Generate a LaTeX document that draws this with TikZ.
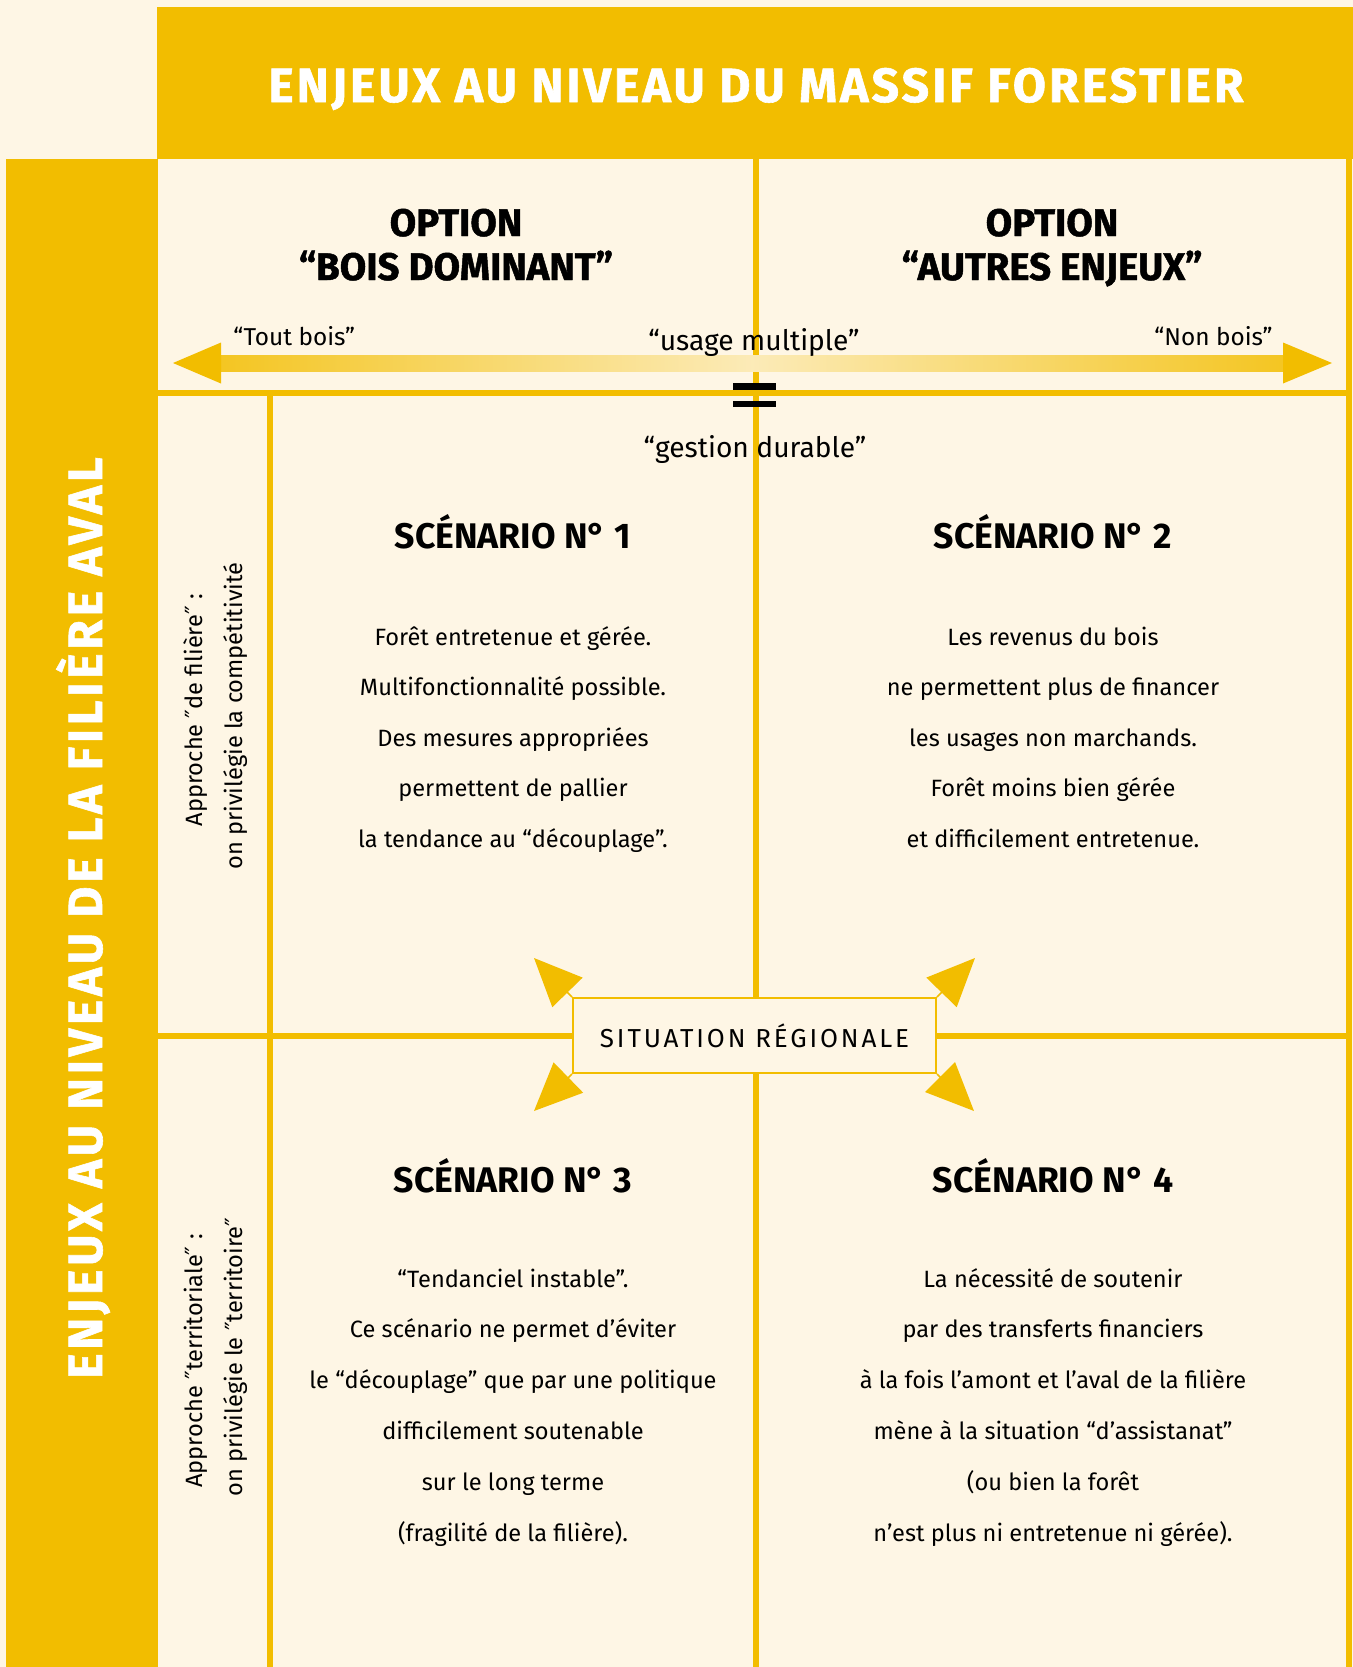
\documentclass[tikz,border=0pt]{standalone}
\usepackage{fontspec}
\setmainfont{Fira Sans}
\newfontfamily\heavyfont{Fira Sans}[BoldFeatures={FakeBold=1.2}]
\newfontfamily\primefont{DejaVu Sans}
\newcommand\dprime{{\primefont ″}}
\usetikzlibrary{arrows.meta,positioning}
\definecolor{ylw}{RGB}{242,189,0}
\definecolor{cream}{RGB}{254,246,229}

\begin{document}
\begin{tikzpicture}[x=0.5pt,y=-0.5pt,
  gridline/.style={ylw,line width=2.8pt},
  bandtitle/.style={font=\heavyfont\bfseries\fontsize{24}{28}\selectfont\addfontfeature{LetterSpace=8},
    text=white,inner sep=0pt,anchor=base},
  option/.style={font=\heavyfont\bfseries\fontsize{19.2}{22}\selectfont,inner sep=0pt,anchor=base},
  scen/.style={font=\bfseries\fontsize{17.8}{22}\selectfont,inner sep=0pt,anchor=base},
  body/.style={font=\fontsize{11.8}{15}\selectfont,inner sep=0pt,anchor=base},
  endlabel/.style={font=\fontsize{12.2}{15}\selectfont,inner sep=0pt},
  keyword/.style={font=\fontsize{14.1}{17}\selectfont,inner sep=0pt,anchor=base},
  sidelabel/.style={font=\fontsize{11.8}{14}\selectfont,inner sep=0pt,anchor=base,rotate=90},
  cornerarrow/.style={ylw,line width=0.8pt,-{Triangle[length=24pt,width=21pt]}}]
\useasboundingbox (0,0) rectangle (1353,1667);
\fill[cream] (0,0) rectangle (1353,1667);

% bands
\fill[ylw] (157,7) rectangle (1353,159);
\fill[ylw] (6,159) rectangle (158,1667);
\node[bandtitle,font=\heavyfont\bfseries\fontsize{24}{28}\selectfont\addfontfeature{LetterSpace=6.5}]
  (toptitle) at (756,102) {ENJEUX AU NIVEAU DU MASSIF FORESTIER};
\node[bandtitle,rotate=90] (lefttitle) at (102,918) {ENJEUX AU NIVEAU DE LA FILIÈRE AVAL};

% grid
\draw[gridline] (157,393) -- (1349,393);
\draw[gridline] (157,1036) -- (1349,1036);
\draw[gridline] (756,159) -- (756,1667);
\draw[gridline] (270,393) -- (270,1667);
\draw[gridline] (1349,159) -- (1349,1667);

% options
\node[option] (opt1a) at (456,236) {OPTION};
\node[option] (opt1b) at (456,280) {“BOIS DOMINANT”};
\node[option] (opt2a) at (1052,236) {OPTION};
\node[option] (opt2b) at (1052,280) {“AUTRES ENJEUX”};

% double arrow
\shade[left color=ylw!85!cream,right color=ylw!85!cream,middle color=cream!80!ylw]
  (221,355) rectangle (1283,371);
\fill[ylw] (221,342.5) -- (173,363) -- (221,383.5) -- cycle;
\fill[ylw] (1283,342.5) -- (1332,363) -- (1283,383.5) -- cycle;
\node[endlabel,anchor=base west] (toutbois) at (233,345) {“Tout bois”};
\node[endlabel,anchor=base east] (nonbois) at (1273,345) {“Non bois”};
\node[keyword] (usage) at (754,350) {“usage multiple”};
\fill (733,383) rectangle (776,389.5);
\fill (733,400.5) rectangle (776,407);
\node[keyword] (gestion) at (755,457) {“gestion durable”};

% side labels
\node[sidelabel] (side1a) at (202,710) {Approche \dprime de filière\dprime\ :};
\node[sidelabel] (side1b) at (242,716) {on privilégie la compétitivité};
\node[sidelabel] (side2a) at (202,1361) {Approche \dprime territoriale\dprime\ :};
\node[sidelabel] (side2b) at (242,1357) {on privilégie le \dprime territoire\dprime};

% scenarios
\node[scen] (sc1) at (513,548) {SCÉNARIO N° 1};
\node[scen] (sc2) at (1053,548) {SCÉNARIO N° 2};
\node[scen] (sc3) at (513,1192) {SCÉNARIO N° 3};
\node[scen] (sc4) at (1053,1192) {SCÉNARIO N° 4};

\foreach \txt [count=\i] in {{Forêt entretenue et gérée.},{Multifonctionnalité possible.},
  {Des mesures appropriées},{permettent de pallier},{la tendance au “découplage”.}}
  \node[body] (sa\i) at (513,{645+50.5*(\i-1)}) {\txt};
\foreach \txt [count=\i] in {{Les revenus du bois},{ne permettent plus de financer},
  {les usages non marchands.},{Forêt moins bien gérée},{et difficilement entretenue.}}
  \node[body] (sb\i) at (1053,{645+50.5*(\i-1)}) {\txt};
\foreach \txt [count=\i] in {{“Tendanciel instable”.},{Ce scénario ne permet d’éviter},
  {le “découplage” que par une politique},{difficilement soutenable},
  {sur le long terme},{(fragilité de la filière).}}
  \node[body] (sc\i) at (513,{1287+50.8*(\i-1)}) {\txt};
\foreach \txt [count=\i] in {{La nécessité de soutenir},{par des transferts financiers},
  {à la fois l’amont et l’aval de la filière},{mène à la situation “d’assistanat”},
  {(ou bien la forêt},{n’est plus ni entretenue ni gérée).}}
  \node[body] (sd\i) at (1053,{1287+50.8*(\i-1)}) {\txt};

% regional situation
\node[draw=ylw,line width=1pt,fill=cream,minimum width=181.5pt,minimum height=37.5pt,
  inner sep=0pt,font=\fontsize{13}{15}\selectfont\addfontfeature{LetterSpace=11}]
  (region) at (754.5,1035.5) {SITUATION RÉGIONALE};
\coordinate (tipnw) at (534,958);
\coordinate (tipne) at (975,958);
\coordinate (tipsw) at (534,1111);
\coordinate (tipse) at (974,1111);
\draw[cornerarrow] (region.north west) -- (tipnw);
\draw[cornerarrow] (region.north east) -- (tipne);
\draw[cornerarrow] (region.south west) -- (tipsw);
\draw[cornerarrow] (region.south east) -- (tipse);
\end{tikzpicture}
\end{document}
